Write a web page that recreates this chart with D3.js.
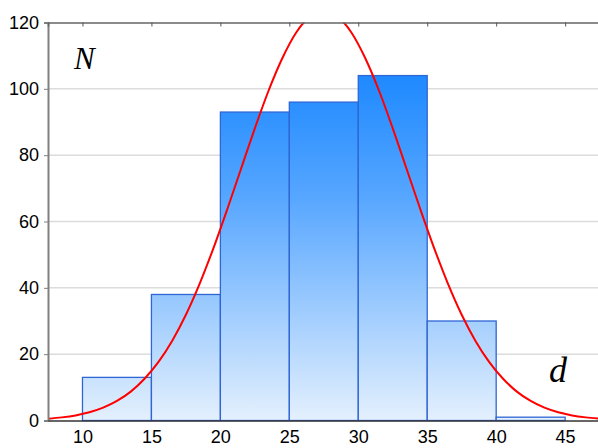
<!DOCTYPE html>
<html>
<head>
<meta charset="utf-8">
<script src="https://cdn.jsdelivr.net/npm/d3@7"></script>
<style>
  body { margin: 0; background: #fff; }
</style>
</head>
<body>
<script>
// histogram bins (left edges, width 5) and counts
var binStarts = [10, 15, 20, 25, 30, 35, 40];
var counts = [13, 38, 93, 96, 104, 30, 1];
var binWidth = 5;

// fitted normal curve
var curveX = [7.5, 8.5, 9.5, 10.5, 11.5, 12.5, 13.5, 14.5, 15.5, 16.5, 17.5, 18.5, 19.5, 20.5,
              21.5, 22.5, 23.5, 24.5, 25.5, 26.5, 27.5, 28.5, 29.5, 30.5, 31.5, 32.5, 33.5,
              34.5, 35.5, 36.5, 37.5, 38.5, 39.5, 40.5, 41.5, 42.5, 43.5, 44.5, 45.5, 46.5, 47.5];
var curveY = [0.55, 0.94, 1.54, 2.48, 3.87, 5.89, 8.71, 12.6, 17.6, 24.0, 31.9, 41.3, 52.0, 63.7,
              75.9, 88.1, 99.5, 109.3, 117.0, 121.8, 123.5, 121.8, 117.0, 109.3, 99.5, 88.1, 75.9,
              63.7, 52.0, 41.3, 31.9, 24.0, 17.6, 12.6, 8.71, 5.89, 3.87, 2.48, 1.54, 0.94, 0.55];

var xTicks = [10, 15, 20, 25, 30, 35, 40, 45];
var yTicks = [0, 20, 40, 60, 80, 100, 120];

var width = 598, height = 448;
var plotLeft = 48, plotTop = 22.5, plotBottom = 420.5, plotRight = 599.6;
var labelFont = "'Liberation Sans', Arial, sans-serif";

var svg = d3.select("body").append("svg")
            .attr("width", width)
            .attr("height", height);

var x = d3.scaleLinear().domain([7.5, 47.5]).range([plotLeft, plotRight]);
var y = d3.scaleLinear().domain([0, 120]).range([plotBottom, plotTop]);

var defs = svg.append("defs");

// gradient runs over the plot height, so short bars stay pale
var grad = defs.append("linearGradient")
               .attr("id", "barGrad")
               .attr("gradientUnits", "userSpaceOnUse")
               .attr("x1", 0).attr("x2", 0)
               .attr("y1", y(104)).attr("y2", y(0));
grad.append("stop").attr("offset", "0%").attr("stop-color", "#1e89ff");
grad.append("stop").attr("offset", "35%").attr("stop-color", "#56a6ff");
grad.append("stop").attr("offset", "100%").attr("stop-color", "#e4f0fd");

defs.append("clipPath").attr("id", "plotClip")
    .append("rect")
    .attr("x", plotLeft).attr("y", plotTop)
    .attr("width", plotRight - plotLeft).attr("height", plotBottom - plotTop);

// gridlines
svg.append("g")
   .selectAll("line")
   .data(yTicks.filter(function(d) { return d > 0 && d < 120; }))
   .enter()
   .append("line")
   .attr("x1", plotLeft).attr("x2", width)
   .attr("y1", function(d) { return y(d); })
   .attr("y2", function(d) { return y(d); })
   .attr("stroke", "#dcdcdc")
   .attr("stroke-width", 1.5);

// bars
svg.append("g")
   .selectAll("rect")
   .data(counts)
   .enter()
   .append("rect")
   .attr("x", function(d, i) { return x(binStarts[i]); })
   .attr("y", function(d) { return y(d); })
   .attr("width", function(d, i) { return x(binStarts[i] + binWidth) - x(binStarts[i]); })
   .attr("height", function(d) { return y(0) - y(d); })
   .attr("fill", "url(#barGrad)")
   .attr("stroke", "#2f66d4")
   .attr("stroke-width", 1.3);

// normal curve
var line = d3.line()
             .x(function(d, i) { return x(curveX[i]); })
             .y(function(d) { return y(d); })
             .curve(d3.curveMonotoneX);

svg.append("path")
   .datum(curveY)
   .attr("clip-path", "url(#plotClip)")
   .attr("d", line)
   .attr("fill", "none")
   .attr("stroke", "#ff0000")
   .attr("stroke-width", 2);

// left axis
var yAxis = d3.axisLeft(y).tickValues(yTicks).tickSize(4).tickPadding(5);
var gy = svg.append("g")
            .attr("transform", "translate(" + plotLeft + ",0)")
            .call(yAxis)
            .attr("font-family", labelFont)
            .attr("font-size", 18);
gy.select(".domain").attr("stroke", "#808080").attr("stroke-width", 2);
gy.selectAll(".tick line").attr("stroke", "#808080");
gy.selectAll(".tick text").attr("fill", "#000");

// bottom axis
var xAxis = d3.axisBottom(x).tickValues(xTicks).tickSize(0).tickPadding(10);
var gx = svg.append("g")
            .attr("transform", "translate(0," + plotBottom + ")")
            .call(xAxis)
            .attr("font-family", labelFont)
            .attr("font-size", 18);
gx.select(".domain").attr("stroke", "#333").attr("stroke-width", 1.6);
gx.selectAll(".tick text").attr("fill", "#000");

// top frame with inward ticks
var topAxis = d3.axisTop(x).tickValues(xTicks).tickSize(-4).tickFormat("");
var gt = svg.append("g")
            .attr("transform", "translate(0," + plotTop + ")")
            .call(topAxis);
gt.select(".domain").attr("stroke", "#666").attr("stroke-width", 1.6);
gt.selectAll(".tick line").attr("stroke", "#555");

// axis letters
svg.append("text")
   .attr("x", 74).attr("y", 69)
   .attr("font-family", "'Liberation Serif', 'Times New Roman', serif")
   .attr("font-style", "italic")
   .attr("font-size", 31)
   .text("N");

svg.append("text")
   .attr("x", 549).attr("y", 382)
   .attr("font-family", "'Liberation Serif', 'Times New Roman', serif")
   .attr("font-style", "italic")
   .attr("font-size", 36)
   .text("d");
</script>
</body>
</html>
